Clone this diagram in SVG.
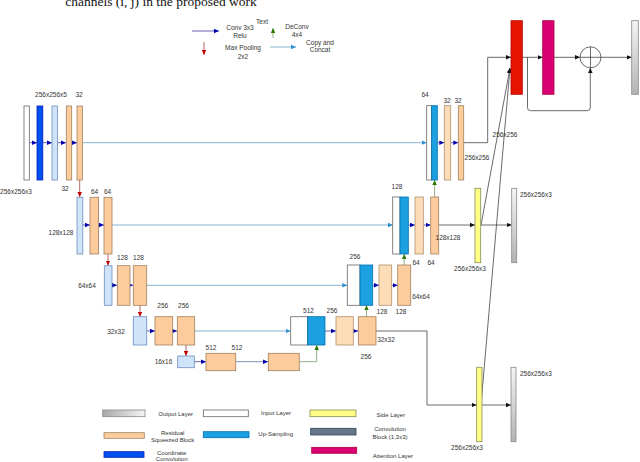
<svg xmlns="http://www.w3.org/2000/svg" width="640" height="462" viewBox="0 0 640 462">
<defs>
<style>
text{font-family:"Liberation Sans",Arial,sans-serif;font-size:6.5px;fill:#333;text-anchor:middle}
.st{text-anchor:start}
.lg{font-size:6px}
.wh{fill:#fff;stroke:#666;stroke-width:0.8}
.db{fill:#0050ef;stroke:#001dbc;stroke-width:0.8}
.lb{fill:#cfe4f8;stroke:#6c8ebf;stroke-width:0.8}
.or{fill:#fdcc9c;stroke:#a08060;stroke-width:0.8}
.ol{fill:#fddcb8;stroke:#b09070;stroke-width:0.8}
.up{fill:#1ba1e2;stroke:#006eaf;stroke-width:0.8}
.ye{fill:#ffff88;stroke:#8a8a50;stroke-width:0.8}
.gr{fill:url(#gv);stroke:#888;stroke-width:0.8}
.rd{fill:#e51400;stroke:#b20000;stroke-width:0.8}
.mg{fill:#d80073;stroke:#a50040;stroke-width:0.8}
.sl{fill:#647687;stroke:#314354;stroke-width:0.8}
.nv{stroke:#4040a0;stroke-width:0.8;fill:none;marker-end:url(#mN)}
.sk{stroke:#86b4cf;stroke-width:1;fill:none;marker-end:url(#mB)}
.rp{stroke:#a04040;stroke-width:0.8;fill:none;marker-end:url(#mR)}
.gp{stroke:#7a9a6a;stroke-width:0.8;fill:none;marker-end:url(#mG)}
.bk{stroke:#444;stroke-width:0.8;fill:none;marker-end:url(#mK)}
</style>
<linearGradient id="gv" x1="0" y1="0" x2="0" y2="1"><stop offset="0" stop-color="#f5f5f5"/><stop offset="1" stop-color="#b3b3b3"/></linearGradient>
<linearGradient id="gh" x1="0" y1="0" x2="1" y2="0"><stop offset="0" stop-color="#a8a8a8"/><stop offset="1" stop-color="#f5f5f5"/></linearGradient>
<marker id="mN" viewBox="0 0 10 10" refX="10" refY="5" markerWidth="5" markerHeight="5" markerUnits="userSpaceOnUse" orient="auto"><path d="M0,0.5 L10,5 L0,9.5 z" fill="#0000b0"/></marker>
<marker id="mB" viewBox="0 0 10 10" refX="10" refY="5" markerWidth="5" markerHeight="5" markerUnits="userSpaceOnUse" orient="auto"><path d="M0,0.5 L10,5 L0,9.5 z" fill="#2e8fd0"/></marker>
<marker id="mR" viewBox="0 0 10 10" refX="10" refY="5" markerWidth="5" markerHeight="5" markerUnits="userSpaceOnUse" orient="auto"><path d="M0,0.5 L10,5 L0,9.5 z" fill="#c00000"/></marker>
<marker id="mG" viewBox="0 0 10 10" refX="10" refY="5" markerWidth="5" markerHeight="5" markerUnits="userSpaceOnUse" orient="auto"><path d="M0,0.5 L10,5 L0,9.5 z" fill="#2d7600"/></marker>
<marker id="mK" viewBox="0 0 10 10" refX="10" refY="5" markerWidth="5" markerHeight="5" markerUnits="userSpaceOnUse" orient="auto"><path d="M0,0.5 L10,5 L0,9.5 z" fill="#111"/></marker>
</defs>
<rect width="640" height="462" fill="#fff"/>
<text x="161" y="6" style="font-family:'Liberation Serif',serif;font-size:13.5px;fill:#111">channels (i, j) in the proposed work</text>

<g id="legend-top">
<path class="nv" d="M192,31 L219,31"/>
<text x="240" y="30">Conv 3x3</text><text x="240" y="37.5">Relu</text>
<text x="262" y="24">Text</text>
<path class="gp" d="M273,38 L273,28"/>
<text x="297" y="29">DeConv</text><text x="297" y="36.5">4x4</text>
<path class="rp" d="M204,42 L204,55"/>
<text x="243" y="50">Max Pooling</text><text x="243" y="58.5">2x2</text>
<path class="sk" d="M270,47 L296,47"/>
<text x="320" y="44.5">Copy and</text><text x="320" y="52">Concat</text>
</g>

<g id="connectors">
<path class="nv" d="M29.5,142.7 L37,142.7"/>
<path class="nv" d="M43,142.7 L52,142.7"/>
<path class="nv" d="M57.5,142.7 L66,142.7"/>
<path class="nv" d="M71.5,142.7 L77,142.7"/>
<path class="nv" d="M83,225 L90,225"/>
<path class="nv" d="M98.5,225 L104,225"/>
<path class="nv" d="M112,285.3 L117,285.3"/>
<path class="nv" d="M130,285.3 L133,285.3"/>
<path class="nv" d="M146.5,331 L155,331"/>
<path class="nv" d="M173,331 L177,331"/>
<path class="nv" d="M194,361.7 L206,361.7"/>
<path class="nv" d="M236,361.7 L268,361.7" style="stroke:#5a78a8"/>
<path class="nv" d="M325,331 L336,331"/>
<path class="nv" d="M353.5,331 L358,331"/>
<path class="nv" d="M372.7,285.3 L379,285.3"/>
<path class="nv" d="M391.7,285.3 L397.7,285.3"/>
<path class="nv" d="M408.3,225 L415,225"/>
<path class="nv" d="M423.3,225 L430.7,225"/>
<path class="nv" d="M437.3,142.7 L444.3,142.7"/>
<path class="nv" d="M450.7,142.7 L458.3,142.7"/>
<path class="sk" d="M82.5,142.7 L426.7,142.7"/>
<path class="sk" d="M112,225 L393,225"/>
<path class="sk" d="M146.7,285.3 L347.3,285.3"/>
<path class="sk" d="M195,331 L290.7,331"/>
<path class="rp" d="M79.7,180 L79.7,197"/>
<path class="rp" d="M108,254 L108,265.5"/>
<path class="rp" d="M140,305.3 L140,316.7"/>
<path class="rp" d="M186,345 L186,356"/>
<path class="gp" d="M299.5,361.7 L316.7,361.7 L316.7,345"/>
<path class="gp" d="M366.5,316.7 L366.5,305.3"/>
<path class="gp" d="M404.2,265 L404.2,254"/>
<path class="gp" d="M434.6,197 L434.6,180"/>
<path class="bk" d="M463.7,142.7 L487.7,142.7 L487.7,57.3 L511,57.3"/>
<path class="bk" d="M438.7,225 L475,225"/>
<path class="bk" d="M481,225 L511.7,225"/>
<path class="bk" d="M376,331 L427,331 L427,405 L476.7,405"/>
<path class="bk" d="M482,405 L511,405"/>
<path class="bk" d="M481,225 L510,68"/>
<path class="bk" d="M481,405 L510,68"/>
<path class="bk" d="M522.3,57.3 L542.7,57.3"/>
<path class="bk" d="M554,57.3 L580,57.3"/>
<path class="bk" d="M601,57.3 L631.7,57.3"/>
<path class="bk" d="M527.5,57.3 L527.5,107.7 Q527.5,110.7 530.5,110.7 L587.3,110.7 Q590.3,110.7 590.3,107.7 L590.3,68"/>
</g>

<g id="enc1">
<rect id="input" class="wh" x="24" y="106" width="5.3" height="74"/>
<rect id="coordconv" class="db" x="37" y="106" width="5.8" height="74"/>
<rect class="lb" x="52" y="106" width="5.5" height="74"/>
<rect class="or" x="66.3" y="106" width="5.4" height="74"/>
<rect class="or" x="77" y="106" width="5.4" height="74"/>
<text x="51" y="97">256x256x5</text><text x="79" y="97">32</text>
<text x="16" y="193.5">256x256x3</text><text x="65" y="190.5">32</text>
</g>
<g id="enc2">
<rect class="lb" x="77" y="197.3" width="5.8" height="56.7"/>
<rect class="or" x="90" y="197.3" width="8.6" height="56.7"/>
<rect class="or" x="104" y="197.3" width="8" height="56.7"/>
<text x="94.5" y="193.5">64</text><text x="107.5" y="193.5">64</text>
<text x="61" y="234.5">128x128</text>
</g>
<g id="enc3">
<rect class="lb" x="104.3" y="265.7" width="7.7" height="39.6"/>
<rect class="or" x="117.3" y="265.7" width="12.7" height="39.6"/>
<rect class="or" x="133.3" y="265.7" width="13.4" height="39.6"/>
<text x="122.5" y="259.5">128</text><text x="138.5" y="259.5">128</text>
<text x="87" y="287.5">64x64</text>
</g>
<g id="enc4">
<rect class="lb" x="133.3" y="316.7" width="13.4" height="28.3"/>
<rect class="or" x="155" y="316.7" width="17.7" height="28.3"/>
<rect class="or" x="177.3" y="316.7" width="17.4" height="28.3"/>
<text x="162.7" y="308.3">256</text><text x="183.5" y="308.3">256</text>
<text x="116" y="333.5">32x32</text>
</g>
<g id="bottleneck">
<rect class="lb" x="177.7" y="356" width="16.6" height="11.7"/>
<rect class="or" x="206" y="353.3" width="29.7" height="17.4"/>
<rect class="or" x="268.3" y="353.3" width="31" height="17.4"/>
<text x="211" y="350">512</text><text x="237" y="350">512</text>
<text x="163.5" y="364.2">16x16</text>
</g>
<g id="dec4">
<rect class="wh" x="290.7" y="316.7" width="17" height="28.3"/>
<rect class="up" x="307.7" y="316.7" width="17.3" height="28.3"/>
<rect class="ol" x="336" y="316.7" width="17.3" height="28.3"/>
<rect class="or" x="358.3" y="316.7" width="17.7" height="28.3"/>
<text x="308.5" y="313.3">512</text><text x="332" y="313.3">256</text>
<text x="386" y="341.5">32x32</text><text x="366" y="358.5">256</text>
</g>
<g id="dec3">
<rect class="wh" x="347.3" y="265" width="12.7" height="40.3"/>
<rect class="up" x="360" y="265" width="12.7" height="40.3"/>
<rect class="ol" x="379" y="265" width="12.7" height="40.3"/>
<rect class="or" x="397.7" y="265" width="13" height="40.3"/>
<text x="355" y="258.5">256</text>
<text x="382" y="313.5">128</text><text x="401" y="313.5">128</text>
<text x="421" y="298.5">64x64</text>
</g>
<g id="dec2">
<rect class="wh" x="392.7" y="197" width="7.3" height="57"/>
<rect class="up" x="400" y="197" width="8.3" height="57"/>
<rect class="ol" x="415" y="197" width="8.3" height="57"/>
<rect class="or" x="430.7" y="197" width="8" height="57"/>
<text x="397" y="188.5">128</text>
<text x="416" y="264.5">64</text><text x="431" y="264.5">64</text>
<text x="448" y="239.5">128x128</text>
</g>
<g id="dec1">
<rect class="wh" x="426.7" y="105.7" width="5" height="74.3"/>
<rect class="up" x="431.7" y="105.7" width="5.6" height="74.3"/>
<rect class="ol" x="444.3" y="105.7" width="6.4" height="74.3"/>
<rect class="or" x="458.3" y="105.7" width="5.4" height="74.3"/>
<text x="425" y="96.5">64</text><text x="447" y="102.5">32</text><text x="458" y="102.5">32</text>
<text x="477" y="159.5">256x256</text>
<text x="505" y="136.5">256x256</text>
</g>
<g id="side2">
<rect class="ye" x="475" y="188.3" width="5.7" height="74.4"/>
<rect class="gr" x="511.7" y="188.3" width="5" height="74.4"/>
<text class="st" x="520" y="196.5">256x256x3</text>
<text x="470" y="270.8">256x256x3</text>
</g>
<g id="side4">
<rect class="ye" x="476.7" y="367.3" width="5.3" height="74.4"/>
<rect class="gr" x="511" y="367.3" width="5" height="74.4"/>
<text class="st" x="520" y="375.8">256x256x3</text>
<text x="467" y="449.8">256x256x3</text>
</g>
<g id="attention">
<rect class="rd" x="511" y="20.7" width="11.3" height="73.6"/>
<rect class="mg" x="542.7" y="20.7" width="11.3" height="73.6"/>
<g id="sum"><circle cx="590.5" cy="57.3" r="10.5" fill="#fff" stroke="#444" stroke-width="0.8"/><path d="M580,57.3 H601 M590.5,46.8 V67.8" stroke="#444" stroke-width="0.8"/></g>
<rect class="gr" x="631.7" y="20.7" width="6.6" height="73.6"/>
</g>

<g id="legend-bottom">
<rect x="102.7" y="410" width="42.3" height="6.7" fill="url(#gh)" stroke="#888" stroke-width="0.8"/>
<text class="st lg" x="158.3" y="415.5">Output Layer</text>
<rect class="wh" x="203.3" y="410" width="45" height="6.7"/>
<text class="st lg" x="261" y="415">Input Layer</text>
<rect class="ye" x="310" y="410" width="46" height="6.7"/>
<text class="st lg" x="376.5" y="417">Side Layer</text>
<rect class="or" x="104" y="432.7" width="40.3" height="5.6"/>
<text class="lg" x="172.7" y="434.5">Residual</text><text class="lg" x="172.7" y="442">Squeezed Block</text>
<rect class="up" x="203.3" y="431.7" width="45.7" height="6"/>
<text class="st lg" x="258.3" y="435.5">Up-Sampling</text>
<rect class="sl" x="310.7" y="428.3" width="45.3" height="6.7"/>
<text class="lg" x="390" y="431">Convolution</text><text class="lg" x="390" y="438.7">Block (1,3x3)</text>
<rect class="db" x="104" y="451.7" width="40" height="5.6"/>
<text class="lg" x="171.7" y="454.5">Coordinate</text><text class="lg" x="171.7" y="461">Convolution</text>
<rect class="mg" x="311.7" y="447.3" width="45" height="6"/>
<text class="st lg" x="372.7" y="457.5">Attention Layer</text>
</g>
</svg>
